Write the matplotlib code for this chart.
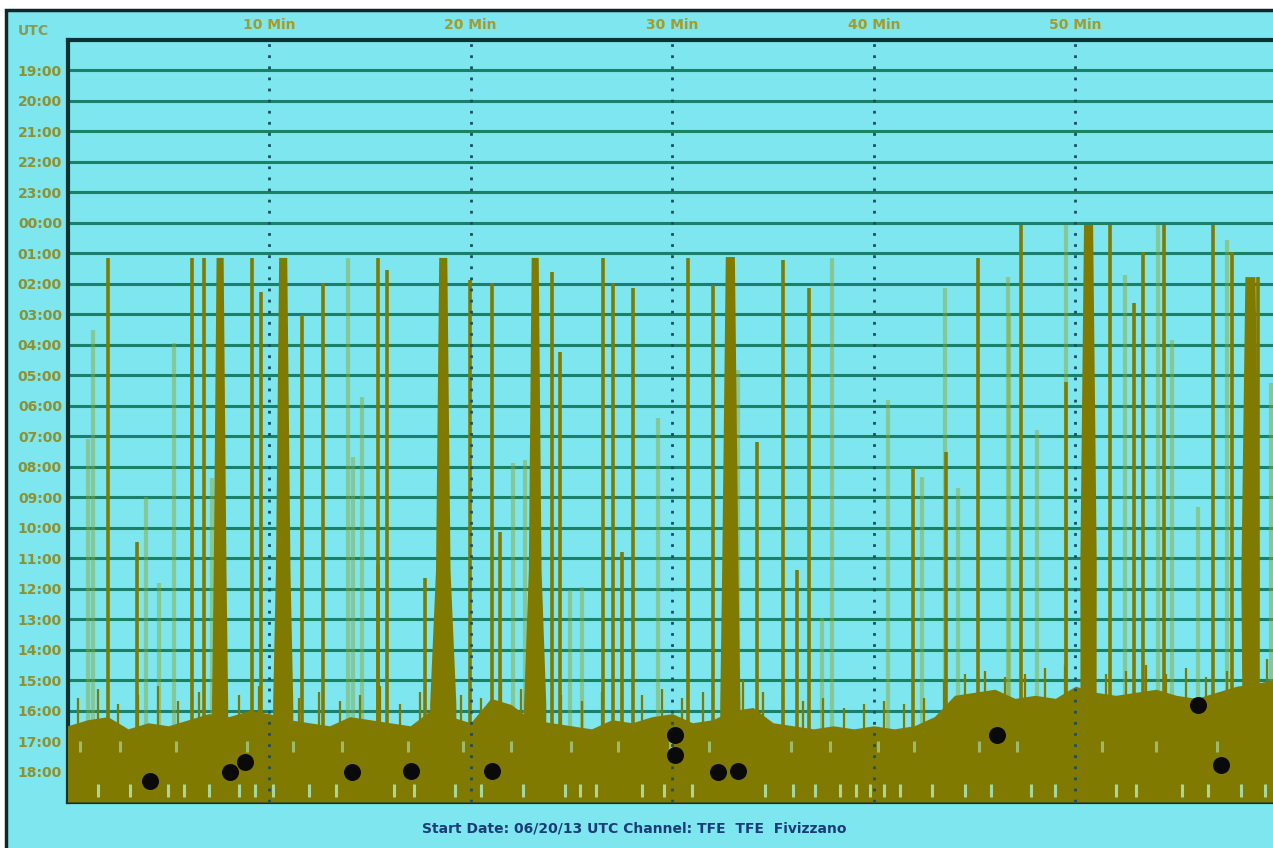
import numpy as np
import matplotlib.pyplot as plt
from matplotlib.patches import Rectangle
from matplotlib.transforms import blended_transform_factory

# hour rows of the helicorder (row 1 = 19:00 ... row 24 = 18:00)
hour_labels = ['19:00', '20:00', '21:00', '22:00', '23:00', '00:00', '01:00', '02:00',
               '03:00', '04:00', '05:00', '06:00', '07:00', '08:00', '09:00', '10:00',
               '11:00', '12:00', '13:00', '14:00', '15:00', '16:00', '17:00', '18:00']
minute_marks = [10, 20, 30, 40, 50]

# spikes: minute, top (row units, 0 = top of chart, 25 = bottom)
dark_x = [2.0, 6.18, 6.77, 9.16, 9.6, 11.64, 12.68, 3.45, 15.41, 15.86, 19.98, 21.07,
          24.04, 24.44, 26.58, 27.07, 28.06, 17.74, 30.79, 32.03, 34.22, 35.51, 36.8,
          41.96, 45.19, 47.32, 49.55, 51.69, 52.88, 53.37, 54.37, 56.8, 57.79, 59.08,
          21.46, 27.52, 36.2, 43.6, 15.41]
dark_top = [7.15, 7.15, 7.15, 7.15, 8.27, 9.02, 7.97, 16.47, 7.15, 7.55, 7.87, 7.97,
            7.61, 10.24, 7.15, 7.97, 8.14, 17.65, 7.15, 8.04, 13.19, 7.22, 8.14,
            14.04, 7.15, 6.07, 11.22, 6.07, 8.63, 6.96, 6.07, 6.07, 6.96, 7.78,
            16.14, 16.8, 17.39, 13.52, 17.2]

light_x = [1.27, 1.0, 3.9, 5.29, 7.17, 13.92, 14.62, 14.17, 4.54, 22.11, 22.7, 29.3,
           24.94, 25.53, 33.27, 37.94, 40.72, 42.41, 43.55, 44.19, 37.44, 46.63, 46.68,
           48.11, 49.55, 52.48, 54.12, 54.81, 56.1, 57.54, 59.68]
light_top = [9.51, 13.1, 14.99, 9.94, 14.37, 7.15, 11.71, 13.68, 17.81, 13.88, 13.78, 12.4,
             18.04, 17.95, 10.83, 7.15, 11.81, 14.34, 8.14, 14.7, 18.96, 7.78, 8.96,
             12.8, 6.07, 7.71, 6.07, 9.84, 15.32, 6.56, 11.25]

# big events: minute, top, width at top, width at base (minutes)
thick_x = [7.57, 10.7, 18.64, 23.2, 32.88, 50.65, 58.68]
thick_top = [7.15, 7.15, 7.15, 7.15, 7.12, 6.07, 7.78]
thick_tw = [0.35, 0.4, 0.4, 0.35, 0.45, 0.45, 0.5]
thick_bw = [0.8, 1.0, 1.3, 1.1, 1.0, 0.8, 0.8]

# top of the background noise band
band_x = [0, 1, 2, 3, 4, 5, 6, 7, 8, 9, 10, 11, 12, 13, 14, 15, 16, 17, 18, 19, 20,
          21, 22, 23, 24, 25, 26, 27, 28, 29, 30, 31, 32, 33, 34, 35, 36, 37, 38, 39,
          40, 41, 42, 43, 44, 45, 46, 47, 48, 49, 50, 51, 52, 53, 54, 55, 56, 57, 58,
          59, 59.8]
band_top = [22.5, 22.3, 22.2, 22.6, 22.4, 22.5, 22.3, 22.1, 22.2, 22.0, 22.1, 22.3,
            22.4, 22.5, 22.2, 22.3, 22.4, 22.5, 22.0, 22.2, 22.4, 21.6, 21.8, 22.3,
            22.4, 22.5, 22.6, 22.3, 22.4, 22.2, 22.1, 22.4, 22.3, 22.0, 21.9, 22.4,
            22.5, 22.6, 22.5, 22.6, 22.5, 22.6, 22.5, 22.2, 21.5, 21.4, 21.3, 21.6,
            21.5, 21.6, 21.2, 21.4, 21.5, 21.4, 21.3, 21.5, 21.6, 21.4, 21.2, 21.1, 21.0]

# small bursts poking out of the noise band, one per minute (x = 0.5, 1.5, ...)
burst_x = [0.5, 1.5, 2.5, 3.5, 4.5, 5.5, 6.5, 7.5, 8.5, 9.5, 10.5, 11.5, 12.5, 13.5,
           14.5, 15.5, 16.5, 17.5, 18.5, 19.5, 20.5, 21.5, 22.5, 23.5, 24.5, 25.5, 26.5,
           27.5, 28.5, 29.5, 30.5, 31.5, 32.5, 33.5, 34.5, 35.5, 36.5, 37.5, 38.5, 39.5,
           40.5, 41.5, 42.5, 43.5, 44.5, 45.5, 46.5, 47.5, 48.5, 49.5, 50.5, 51.5, 52.5,
           53.5, 54.5, 55.5, 56.5, 57.5, 58.5, 59.5]
burst_top = [21.6, 21.3, 21.8, 21.5, 21.2, 21.7, 21.4, 21.0, 21.5, 21.2, 21.3, 21.6,
             21.4, 21.7, 21.5, 21.2, 21.8, 21.4, 21.0, 21.5, 21.6, 21.0, 21.3, 21.2,
             21.5, 21.7, 21.4, 21.6, 21.5, 21.3, 21.6, 21.4, 21.2, 21.0, 21.4, 21.5,
             21.7, 21.6, 21.9, 21.8, 21.7, 21.8, 21.6, 21.0, 20.8, 20.7, 20.9, 20.8,
             20.6, 20.5, 20.6, 20.8, 20.7, 20.5, 20.8, 20.6, 20.9, 20.7, 20.4, 20.3]

# light gaps inside the band (low row and mid row)
gap_x = [1.5, 3.1, 5.0, 5.8, 7.0, 8.5, 9.3, 10.2, 12.0, 13.3, 16.2, 17.2, 19.2, 20.5,
         22.6, 24.7, 25.4, 26.2, 28.5, 29.6, 31.0, 34.6, 36.0, 37.1, 38.3, 39.1, 39.8,
         40.5, 41.3, 42.9, 44.5, 45.8, 47.8, 49.0, 52.0, 53.0, 55.3, 56.6, 58.2, 59.4]
gap2_x = [0.6, 2.6, 5.4, 8.9, 11.2, 13.6, 16.9, 19.6, 22.0, 25.0, 27.3, 29.9, 31.8,
          35.9, 37.8, 40.2, 42.0, 45.2, 47.1, 51.3, 54.0, 57.0]

# black picked events
pick_x = [4.09, 8.06, 8.81, 14.12, 17.05, 21.07, 30.15, 30.15, 32.28, 33.27, 46.13, 56.1, 57.2]
pick_y = [24.31, 24.02, 23.69, 24.02, 23.98, 23.98, 22.8, 23.46, 24.02, 23.98, 22.8, 21.82, 23.79]

cyan = '#7de6ee'
olive = '#817a00'
grid_c = '#1c8068'
label_c = '#8f9030'

fig = plt.figure(figsize=(12.73, 8.48), dpi=100, facecolor='white')
fig.patches.append(Rectangle((6 / 1273, -0.01), 1.0, 1 - 10 / 848 + 0.01, transform=fig.transFigure,
                             facecolor=cyan, edgecolor='#0d2a2a', lw=2.5, zorder=-10))

ax = fig.add_axes([67.5 / 1273, 1 - 802 / 848, 1 - 67.5 / 1273, (802 - 40) / 848])
ax.set_zorder(5)
ax.set_facecolor(cyan)
ax.set_xlim(0, 59.8)
ax.set_ylim(25, 0)

rows = np.arange(1, 25)
for r in rows:
    ax.axhline(r, color=grid_c, lw=2.2, zorder=1)

ax.vlines(light_x, light_top, 25, color='#8fa52a', alpha=0.45, lw=3, zorder=2)
ax.fill_between(band_x, band_top, 25, color=olive, lw=0, zorder=3)
ax.vlines(burst_x, burst_top, 25, color=olive, lw=1.6, zorder=3)
ax.vlines(dark_x, dark_top, 25, color=olive, lw=2.6, zorder=3)
for x, t, tw, bw in zip(thick_x, thick_top, thick_tw, thick_bw):
    mid = t + 0.7 * (21.8 - t)
    ax.fill([x - bw / 2, x - bw / 2, x - tw * 0.9, x - tw / 2, x + tw / 2, x + tw * 0.9,
             x + bw / 2, x + bw / 2],
            [23.0, 21.8, mid, t, t, mid, 21.8, 23.0], color=olive, lw=0, zorder=3)
ax.vlines(gap_x, 24.4, 24.85, color='#aee8b8', alpha=0.85, lw=2.2, zorder=4)
ax.vlines(gap2_x, 23.0, 23.35, color='#aee8b8', alpha=0.6, lw=2.2, zorder=4)

for m in minute_marks:
    ax.axvline(m, color='#1b4f60', lw=2, ls=(0, (1, 3)), zorder=5)

ax.scatter(pick_x, pick_y, s=150, marker='o', color='#0a0a0a', zorder=6, linewidths=0)

ax.set_yticks(rows)
ax.set_yticklabels(hour_labels, color=label_c, fontsize=10, fontweight='bold')
ax.tick_params(axis='y', length=0, pad=4)
ax.set_xticks([])
for s in ['left', 'top', 'bottom']:
    ax.spines[s].set_color('#0a3232')
    ax.spines[s].set_linewidth(3)
ax.spines['right'].set_visible(False)

trans = blended_transform_factory(ax.transData, ax.transAxes)
for m in minute_marks:
    ax.text(m, 1.01, '%d Min' % m, transform=trans, ha='center', va='bottom',
            color='#a49c2a', fontsize=10, fontweight='bold')
fig.text(18 / 1273, 1 - 31 / 848, 'UTC', color='#8c9a50', fontsize=10, fontweight='bold', va='center')

fig.text(634 / 1273, 1 - 829 / 848, 'Start Date: 06/20/13 UTC Channel: TFE  TFE  Fivizzano',
         ha='center', va='center', color='#1c3c78', fontsize=10, fontweight='bold')

fig.savefig('out.png', dpi=100, facecolor=fig.get_facecolor())
